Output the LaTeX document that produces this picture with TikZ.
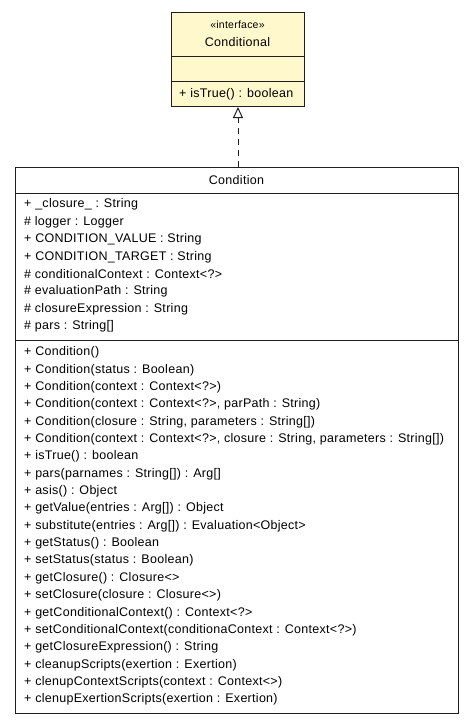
\documentclass[tikz,border=0pt]{standalone}
\usepackage{fontspec}
\setmainfont{Liberation Sans}[LetterSpace=2.3]
\usetikzlibrary{arrows.meta,positioning}
\definecolor{ifacefill}{RGB}{255,248,204}
\definecolor{umlline}{RGB}{30,30,30}

\tikzset{
  umlbox/.style={draw=umlline, line width=1pt, anchor=north west, inner sep=0pt},
  member/.style={anchor=west, inner sep=0pt, font=\fontsize{12.5}{14}\selectfont},
  heading/.style={inner sep=0pt, font=\fontsize{12.5}{14}\selectfont},
  realizes/.style={draw=umlline, line width=1pt, dashed, dash pattern=on 6pt off 5pt,
    -{Triangle[open, length=11pt, width=10pt]}}
}

\begin{document}
\begin{tikzpicture}[x=1pt, y=-1pt]
  \useasboundingbox (0,0) rectangle (475,723);

  % Interface Conditional
  \node[umlbox, fill=ifacefill, minimum width=133pt, minimum height=94pt] (iface) at (171,12) {};
  \draw[umlline, line width=1pt] (171,56) -- (304,56);
  \draw[umlline, line width=1pt] (171,81) -- (304,81);
  \node[heading, font=\fontsize{10.5}{12}\selectfont] (stereo) at (237.5,25) {«interface»};
  \node[heading] (ifname) at (237.5,42.5) {Conditional};
  \node[member] (istrue) at (179,94) {+ isTrue() : boolean};

  % Class Condition
  \node[umlbox, fill=white, minimum width=443pt, minimum height=546pt] (cond) at (15,167) {};
  \draw[umlline, line width=1pt] (15,193) -- (458,193);
  \draw[umlline, line width=1pt] (15,340) -- (458,340);
  \node[heading] (condname) at (236.5,180) {Condition};

  % Attributes
  \node[member] (a1) at (24,204.5) {+ \_closure\_ : String};
  \node[member] (a2) at (24,221.9) {\# logger : Logger};
  \node[member] (a3) at (24,239.4) {+ CONDITION\_VALUE : String};
  \node[member] (a4) at (24,256.8) {+ CONDITION\_TARGET : String};
  \node[member] (a5) at (24,274.2) {\# conditionalContext : Context<?>};
  \node[member] (a6) at (24,291.6) {\# evaluationPath : String};
  \node[member] (a7) at (24,309.1) {\# closureExpression : String};
  \node[member] (a8) at (24,326.5) {\# pars : String[]};

  % Operations
  \node[member] (m1) at (24,352.5) {+ Condition()};
  \node[member] (m2) at (24,369.9) {+ Condition(status : Boolean)};
  \node[member] (m3) at (24,387.2) {+ Condition(context : Context<?>)};
  \node[member] (m4) at (24,404.6) {+ Condition(context : Context<?>, parPath : String)};
  \node[member] (m5) at (24,421.9) {+ Condition(closure : String, parameters : String[])};
  \node[member] (m6) at (24,439.3) {+ Condition(context : Context<?>, closure : String, parameters : String[])};
  \node[member] (m7) at (24,456.6) {+ isTrue() : boolean};
  \node[member] (m8) at (24,474.0) {+ pars(parnames : String[]) : Arg[]};
  \node[member] (m9) at (24,491.3) {+ asis() : Object};
  \node[member] (m10) at (24,508.7) {+ getValue(entries : Arg[]) : Object};
  \node[member] (m11) at (24,526.0) {+ substitute(entries : Arg[]) : Evaluation<Object>};
  \node[member] (m12) at (24,543.4) {+ getStatus() : Boolean};
  \node[member] (m13) at (24,560.7) {+ setStatus(status : Boolean)};
  \node[member] (m14) at (24,578.1) {+ getClosure() : Closure<>};
  \node[member] (m15) at (24,595.4) {+ setClosure(closure : Closure<>)};
  \node[member] (m16) at (24,612.8) {+ getConditionalContext() : Context<?>};
  \node[member] (m17) at (24,630.1) {+ setConditionalContext(conditionaContext : Context<?>)};
  \node[member] (m18) at (24,647.5) {+ getClosureExpression() : String};
  \node[member] (m19) at (24,664.8) {+ cleanupScripts(exertion : Exertion)};
  \node[member] (m20) at (24,682.2) {+ clenupContextScripts(context : Context<>)};
  \node[member] (m21) at (24,699.5) {+ clenupExertionScripts(exertion : Exertion)};

  % Realization
  \draw[realizes] (cond.north -| iface.south) -- (iface.south);
\end{tikzpicture}
\end{document}
